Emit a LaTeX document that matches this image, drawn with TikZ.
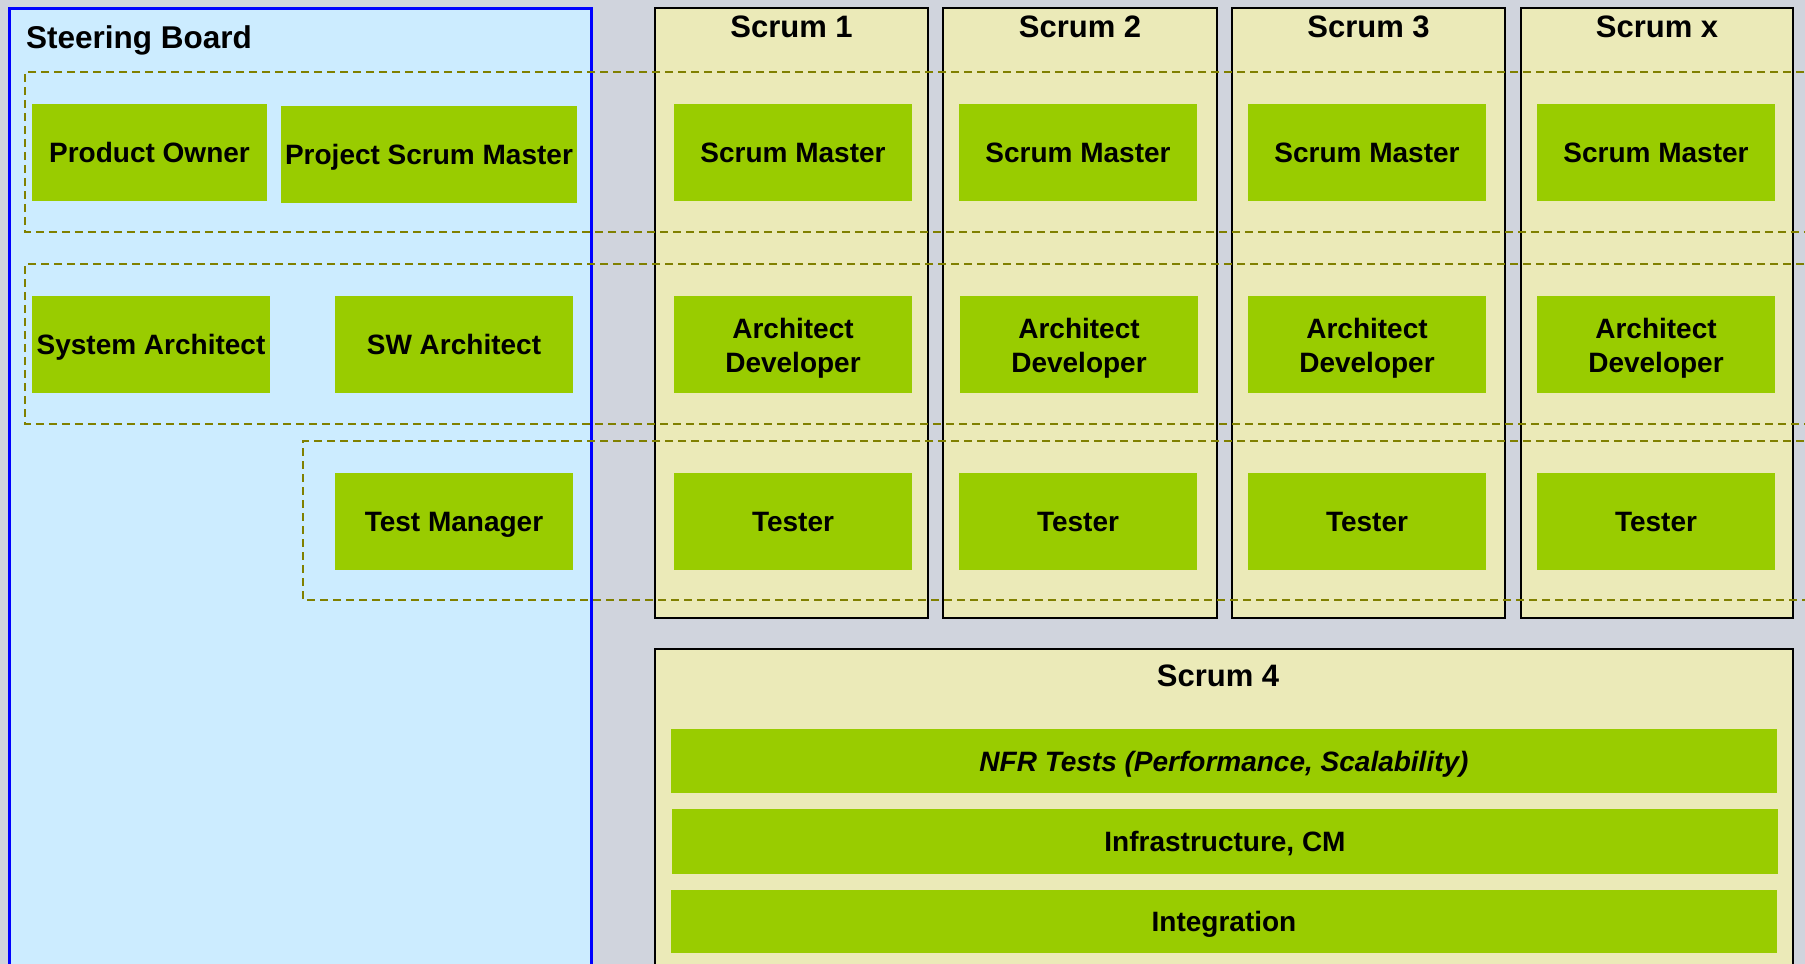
\documentclass[tikz,border=0pt]{standalone}
\usepackage{fontspec}
\setmainfont{Liberation Sans}
\definecolor{bgc}{RGB}{208,212,221}
\definecolor{sbfill}{RGB}{204,236,255}
\definecolor{colfill}{RGB}{235,234,184}
\definecolor{grn}{RGB}{153,204,0}
\definecolor{olive}{RGB}{128,128,0}
\tikzset{
  gbase/.style={fill=grn, inner sep=0pt, minimum height=97, minimum width=238,
    font=\fontsize{28}{34}\selectfont\bfseries, align=center},
  gbox/.style={gbase, text height=20pt, text depth=0pt},
  gbox2/.style={gbase},
  bar/.style={fill=grn, inner sep=0pt, minimum width=1106,
    font=\fontsize{28}{34}\selectfont\bfseries, text height=20pt, text depth=0pt},
  colbox/.style={fill=colfill, draw=black, line width=1.5pt, inner sep=0pt,
    minimum width=273, minimum height=610},
  coltitle/.style={font=\fontsize{31}{36}\selectfont\bfseries, inner sep=0pt, anchor=base},
  grp/.style={draw=olive, line width=1.8pt, dash pattern=on 8pt off 5pt}
}
\newcommand\ArchDev{\rule{0pt}{27pt}Architect\\Developer}
\begin{document}
\begin{tikzpicture}[x=1pt,y=-1pt]
\clip (0,0) rectangle (1805,964);
\fill[bgc] (0,0) rectangle (1805,964);
% steering board
\draw[blue, line width=3pt, fill=sbfill] (9,8) rectangle (591,1010);
\node[anchor=base west, inner sep=0pt, font=\fontsize{31.5}{36}\selectfont\bfseries] (sbt) at (26,48) {Steering Board};
\node[gbox, minimum width=235] (po) at (149.5,152.5) {Product Owner};
\node[gbox, minimum width=296] (psm) at (429,154.5) {Project Scrum Master};
\node[gbox] (sysa) at (151,344.5) {System Architect};
\node[gbox] (swa) at (454,344.5) {SW Architect};
\node[gbox] (tm) at (454,521.5) {Test Manager};
% scrum columns
\node[colbox] (c1) at (791.5,313) {};
\node[colbox, minimum width=274] (c2) at (1080,313) {};
\node[colbox] (c3) at (1368.5,313) {};
\node[colbox, minimum width=272] (cx) at (1657,313) {};
\node[coltitle] (t1) at (791.5,37.5) {Scrum 1};
\node[coltitle] (t2) at (1080,37.5) {Scrum 2};
\node[coltitle] (t3) at (1368.5,37.5) {Scrum 3};
\node[coltitle] (tx) at (1657,37.5) {Scrum x};
\node[gbox] (sm1) at (793,152.5) {Scrum Master};
\node[gbox] (sm2) at (1078,152.5) {Scrum Master};
\node[gbox] (sm3) at (1367,152.5) {Scrum Master};
\node[gbox] (smx) at (1656,152.5) {Scrum Master};
\node[gbox2] (ad1) at (793,344.5) {\ArchDev};
\node[gbox2] (ad2) at (1079,344.5) {\ArchDev};
\node[gbox2] (ad3) at (1367,344.5) {\ArchDev};
\node[gbox2] (adx) at (1656,344.5) {\ArchDev};
\node[gbox] (te1) at (793,521.5) {Tester};
\node[gbox] (te2) at (1078,521.5) {Tester};
\node[gbox] (te3) at (1367,521.5) {Tester};
\node[gbox] (tex) at (1656,521.5) {Tester};
% scrum 4
\draw[fill=colfill, draw=black, line width=1.5pt] (655,649) rectangle (1793,1010);
\node[coltitle] (t4) at (1218,686) {Scrum 4};
\node[bar, minimum height=64] (nfr) at (1224,761) {\itshape NFR Tests (Performance, Scalability)};
\node[bar, minimum height=65] (infra) at (1225,841.5) {Infrastructure, CM};
\node[bar, minimum height=63] (integ) at (1224,921.5) {Integration};
% dashed groups
\draw[grp] (1830,72) -- (25,72) -- (25,232) -- (1830,232);
\draw[grp] (1830,264) -- (25,264) -- (25,424) -- (1830,424);
\draw[grp] (1830,441) -- (303,441) -- (303,600) -- (1830,600);
\end{tikzpicture}
\end{document}
